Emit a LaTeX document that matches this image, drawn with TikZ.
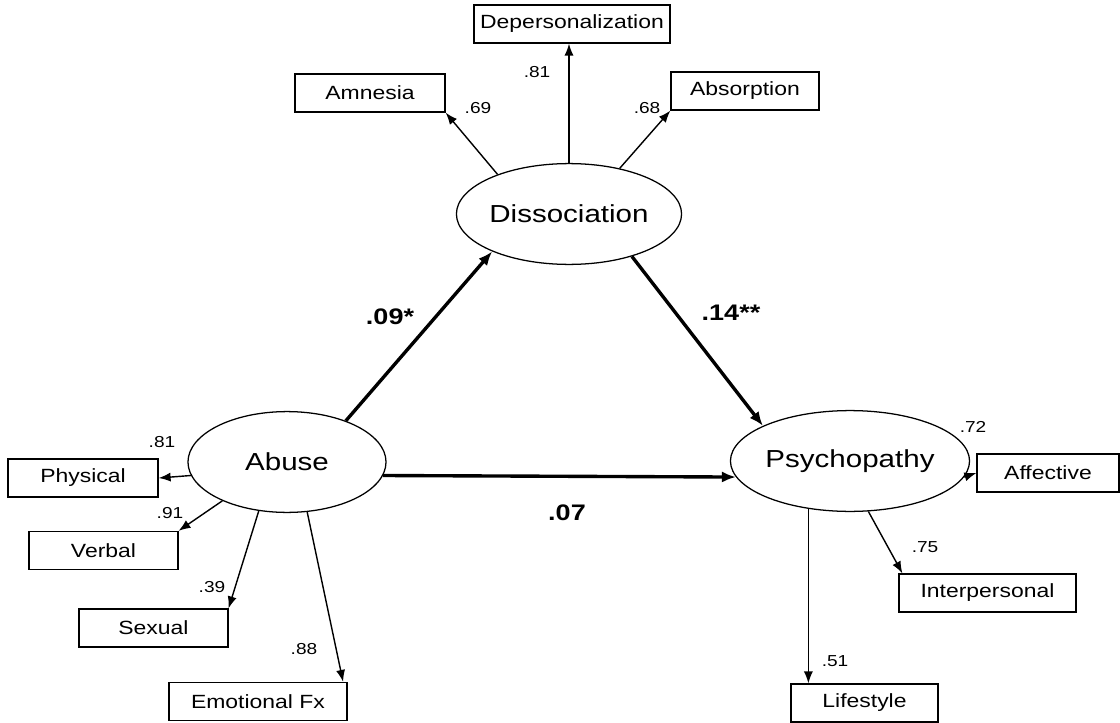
\documentclass[tikz,border=0pt]{standalone}
\usepackage{fontspec}
\setmainfont{Liberation Sans}[FakeStretch=1.2]
\usetikzlibrary{shapes.geometric, arrows.meta}

\tikzset{
	latent/.style={ellipse, draw, line width=0.9pt, minimum width=4.95cm, minimum height=2.52cm, inner sep=0pt, font=\fontsize{17.5}{20}\selectfont},
	indicator/.style={rectangle, draw, line width=0.9pt, minimum height=0.95cm, inner sep=0pt, font=\fontsize{13.6}{16}\selectfont},
	coef/.style={inner sep=0pt, font=\fontsize{11.3}{13}\selectfont},
	pathcoef/.style={inner sep=0pt, font=\bfseries\fontsize{16}{19}\selectfont},
	load/.style={->, line width=1pt},
	effect/.style={-{Latex[length=10pt, width=8pt]}, line width=2.4pt},
}

\begin{document}
\begin{tikzpicture}[x=0.025cm, y=-0.025cm, >={Latex[length=8.5pt, width=6.5pt]}]
		\useasboundingbox (0,0) rectangle (1120,723);
		% latent variables
		\node[latent] (dis) at (569,214) {Dissociation};
		\node[latent] (abuse) at (287,462) {Abuse};
		\node[latent] (psy) at (850,461) {Psychopathy};
		% indicators
		\node[indicator, minimum width=4.9cm] (dep) at (572,24) {Depersonalization};
		\node[indicator, minimum width=3.75cm] (amn) at (370,93) {Amnesia};
		\node[indicator, minimum width=3.7cm] (abs) at (745,91) {Absorption};
		\node[indicator, minimum width=3.75cm] (phys) at (83,478) {Physical};
		\node[indicator, minimum width=3.72cm] (verb) at (103.5,550.5) {Verbal};
		\node[indicator, minimum width=3.72cm] (sex) at (153.5,628) {Sexual};
		\node[indicator, minimum width=4.45cm] (emo) at (258,701.5) {Emotional Fx};
		\node[indicator, minimum width=3.55cm] (aff) at (1048,473) {Affective};
		\node[indicator, minimum width=4.43cm] (inter) at (987.5,593) {Interpersonal};
		\node[indicator, minimum width=3.68cm] (life) at (864.5,703) {Lifestyle};
		% loadings
		\draw[load] (dis.151) -- (amn.south east);
		\draw[load] (dis.north) -- (dis.north |- dep.south);
		\draw[load] (dis.42) -- (abs.south west);
		\draw[load] (abuse.188) -- (phys.east);
		\draw[load] (abuse.211) -- (verb.north east);
		\draw[load] (abuse.240) -- (sex.north east);
		\draw[load] (abuse.292) -- (emo.13.5);
		\draw[load] (psy.-8) -- (aff.west);
		\draw[load] (psy.-70) -- (inter.167);
		\draw[load] (psy.229.5) -- (psy.229.5 |- life.north);
		% structural paths
		\draw[effect] (abuse.35) -- (dis.206);
		\draw[effect] (dis.-34) -- (psy.158);
		\draw[effect] (abuse.-8) -- (psy.188);
		% coefficients
		\node[coef] (c-amn) at (478,108) {.69};
		\node[coef] (c-dep) at (537,72) {.81};
		\node[coef] (c-abs) at (647,108) {.68};
		\node[coef] (c-phys) at (162,442) {.81};
		\node[coef] (c-verb) at (170,513) {.91};
		\node[coef] (c-sex) at (212,587) {.39};
		\node[coef] (c-emo) at (304,649) {.88};
		\node[coef] (c-aff) at (973,427) {.72};
		\node[coef] (c-inter) at (925,547) {.75};
		\node[coef] (c-life) at (835,661) {.51};
		\node[pathcoef] (p-ad) at (390,317) {.09*};
		\node[pathcoef] (p-dp) at (731,313) {.14**};
		\node[pathcoef] (p-ap) at (567,513) {.07};
	\end{tikzpicture}
\end{document}
